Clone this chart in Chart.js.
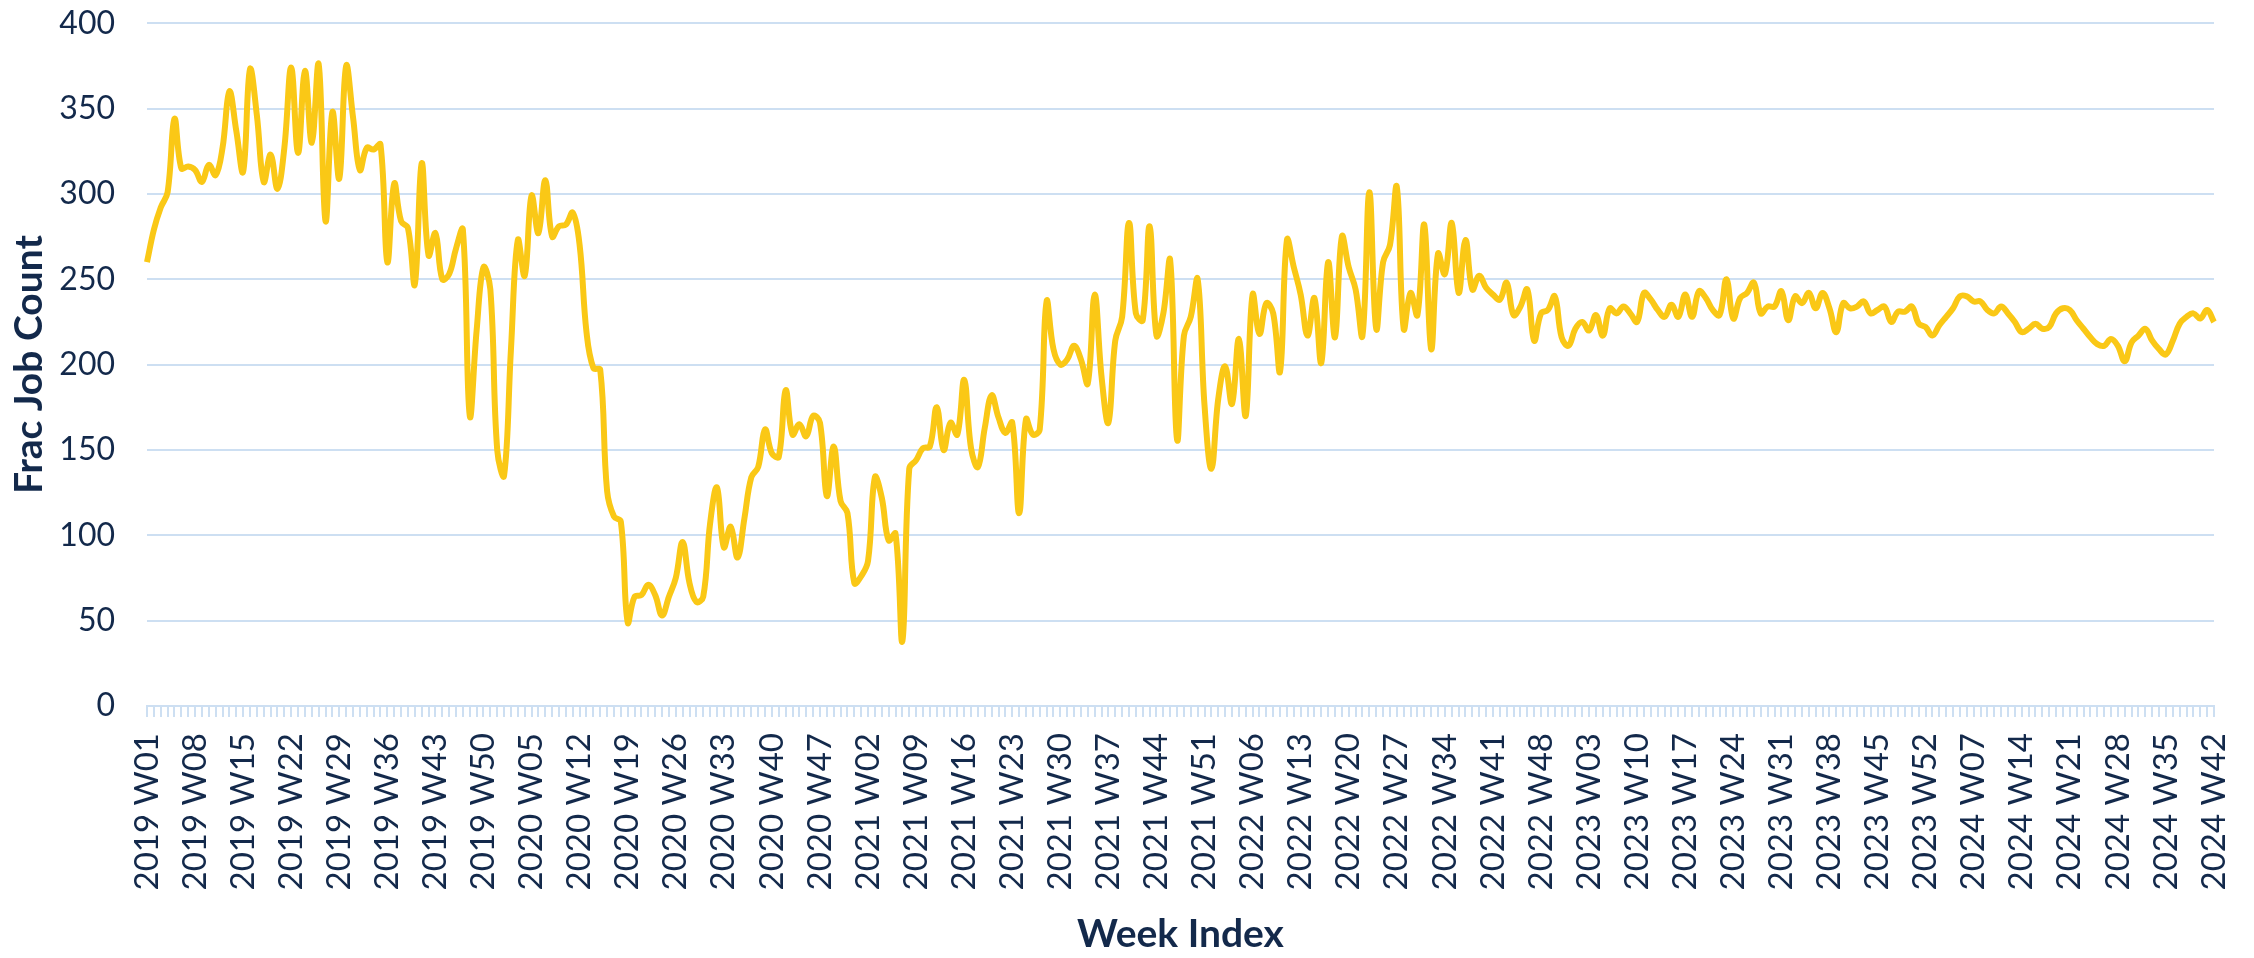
<!DOCTYPE html>
<html>
<head>
<meta charset="utf-8">
<script src="https://cdn.jsdelivr.net/npm/chart.js@4/dist/chart.umd.min.js"></script>
<style>
  html, body { margin: 0; padding: 0; background: #ffffff; }
  #wrap { width: 2254px; height: 958px; }
</style>
</head>
<body>
<div id="wrap"><canvas id="fracChart" width="2254" height="958"></canvas></div>
<script>
// years shown and how many weeks of each are in the data
const years = [2019, 2020, 2021, 2022, 2023, 2024];
const weeksInYear = [52, 52, 52, 52, 52, 42];

// weekly frac job counts
const jobs2019 = [260, 279, 292, 301, 344, 315, 316, 314, 307, 317, 311, 327, 360, 337, 313, 373,
  346, 307, 323, 303, 327, 374, 324, 372, 330, 376, 284, 348, 309, 375, 345, 314,
  327, 326, 329, 260, 306, 284, 280, 247, 318, 264, 277, 250, 253, 268, 279, 170,
  220, 257, 244, 150];
const jobs2020 = [135, 209, 273, 252, 299, 277, 308, 275, 281, 282, 289, 270, 219, 198, 197, 126,
  111, 108, 49, 64, 65, 71, 65, 53, 64, 75, 96, 72, 61, 64, 107, 128,
  93, 105, 87, 110, 134, 140, 162, 148, 146, 185, 159, 165, 158, 170, 166, 123,
  152, 120, 113, 72];
const jobs2021 = [76, 85, 134, 122, 97, 101, 38, 139, 144, 151, 152, 175, 150, 166, 159, 191,
  151, 140, 163, 182, 169, 160, 166, 113, 168, 159, 162, 237, 209, 200, 203, 211,
  203, 189, 241, 193, 166, 214, 228, 283, 230, 226, 281, 217, 230, 261, 156, 217,
  228, 250, 176, 139];
const jobs2022 = [180, 199, 177, 215, 170, 241, 218, 236, 230, 196, 273, 257, 241, 217, 239, 201,
  260, 216, 275, 257, 244, 217, 301, 221, 260, 270, 304, 221, 242, 229, 282, 209,
  265, 253, 283, 242, 273, 244, 252, 245, 241, 238, 248, 229, 234, 244, 214, 230,
  232, 240, 216, 211];
const jobs2023 = [221, 225, 220, 229, 217, 233, 230, 234, 230, 225, 242, 238, 232, 228, 235, 228,
  241, 228, 243, 239, 232, 229, 250, 227, 239, 242, 248, 230, 234, 234, 243, 226,
  240, 236, 242, 233, 242, 233, 219, 236, 233, 234, 237, 230, 232, 234, 225, 231,
  231, 234, 224, 222];
const jobs2024 = [217, 223, 228, 233, 240, 240, 237, 237, 232, 230, 234, 230, 225, 219, 221, 224,
  221, 222, 230, 233, 232, 226, 221, 216, 212, 211, 215, 211, 202, 213, 217, 221,
  214, 209, 206, 214, 224, 228, 230, 227, 232, 225];

const labelEvery = 7;

const weekLabels = [];
years.forEach((y, k) => {
  for (let w = 1; w <= weeksInYear[k]; w++) {
    weekLabels.push(y + " W" + String(w).padStart(2, "0"));
  }
});
const jobCounts = [].concat(jobs2019, jobs2020, jobs2021, jobs2022, jobs2023, jobs2024);

const navy = "#13294b";
const gridBlue = "#cddff2";

new Chart(document.getElementById("fracChart").getContext("2d"), {
  type: "line",
  data: {
    labels: weekLabels,
    datasets: [{
      label: "Frac Job Count",
      data: jobCounts,
      borderColor: "#fac816",
      borderWidth: 6,
      pointRadius: 0,
      tension: 0.4,
      fill: false
    }]
  },
  options: {
    responsive: false,
    animation: false,
    layout: { padding: { left: 4, right: 40, top: 0, bottom: 0 } },
    plugins: {
      legend: { display: false },
      tooltip: { enabled: false }
    },
    scales: {
      x: {
        afterFit: (scale) => {
          scale.height = 252;
          // rotated labels would otherwise push the plot in from the right
          scale.paddingLeft = 0;
          scale.paddingRight = 0;
        },
        grid: {
          drawOnChartArea: false,
          drawTicks: true,
          tickLength: 11,
          color: gridBlue,
          lineWidth: 2
        },
        border: { color: gridBlue, width: 2 },
        ticks: {
          autoSkip: false,
          maxRotation: 90,
          minRotation: 90,
          padding: 16,
          color: navy,
          font: { family: "Lato", size: 33 },
          callback: function (val, idx) {
            return idx % labelEvery === 0 ? this.getLabelForValue(val) : "";
          }
        },
        title: {
          display: true,
          text: "Week Index",
          color: navy,
          font: { family: "Lato", size: 39, weight: "bold" },
          padding: { top: 0, bottom: 0 }
        }
      },
      y: {
        min: 0,
        max: 400,
        afterFit: (scale) => { scale.width = 143; },
        grid: {
          color: gridBlue,
          lineWidth: 2,
          drawTicks: true,
          tickLength: 28,
          tickColor: "rgba(0,0,0,0)"
        },
        border: { display: false },
        ticks: {
          stepSize: 50,
          padding: 4,
          color: navy,
          font: { family: "Lato", size: 32 }
        },
        title: {
          display: true,
          text: "Frac Job Count",
          color: navy,
          font: { family: "Lato", size: 39, weight: "bold" },
          padding: { top: 2, bottom: 0 }
        }
      }
    }
  }
});
</script>
</body>
</html>
